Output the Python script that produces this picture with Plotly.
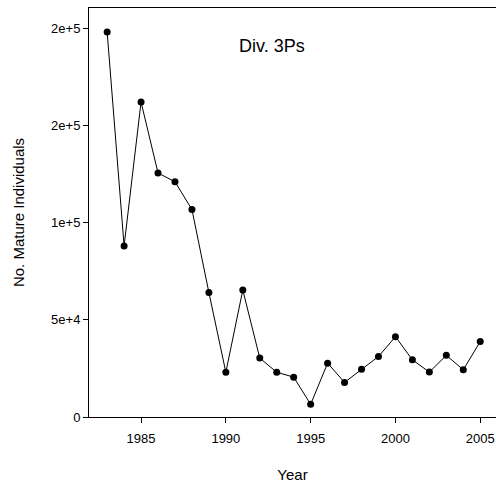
import plotly.graph_objects as go

years = list(range(1983, 2006))
mature = [198000, 88000, 162000, 125500, 121000, 106700, 64000, 23000, 65300,
          30300, 23000, 20500, 6500, 27700, 17800, 24500, 31100, 41300, 29400,
          23100, 31700, 24300, 38800]

x_ticks = [1985, 1990, 1995, 2000, 2005]
y_ticks = [0, 50000, 100000, 150000, 200000]
y_tick_text = ["0", "5e+4", "1e+5", "2e+5", "2e+5"]

FONT = "Liberation Sans, Arial, sans-serif"

fig = go.Figure()
fig.add_trace(go.Scatter(
    x=years, y=mature, mode="lines+markers",
    line=dict(color="black", width=1),
    marker=dict(color="black", size=7),
    showlegend=False, cliponaxis=False,
))

fig.add_annotation(text="Div. 3Ps", xref="paper", yref="paper", x=0.45, y=0.907,
                   xanchor="center", yanchor="middle",
                   showarrow=False, font=dict(family=FONT, size=18, color="black"))

fig.update_layout(
    width=496, height=487,
    margin=dict(l=89, r=0, t=8, b=70),
    paper_bgcolor="white", plot_bgcolor="white",
    font=dict(family=FONT, color="black"),
    xaxis=dict(
        range=[1981.93, 2005.93], tickvals=x_ticks, ticks="outside", ticklen=5,
        tickcolor="black", showline=True, linecolor="black", linewidth=1,
        mirror=True, showgrid=False, zeroline=False, ticklabelstandoff=4,
        tickfont=dict(size=13, family=FONT, color="black"),
        title=dict(text="Year", font=dict(size=15, family=FONT, color="black"), standoff=24),
    ),
    yaxis=dict(
        range=[0, 210350], tickvals=y_ticks, ticktext=y_tick_text, ticks="outside",
        ticklen=5, tickcolor="black", showline=True, linecolor="black", linewidth=1,
        showgrid=False, zeroline=False,
        tickfont=dict(size=13, family=FONT, color="black"),
        title=dict(text="No. Mature Individuals", font=dict(size=15, family=FONT, color="black"), standoff=22),
    ),
)

fig.write_html("out.html")
